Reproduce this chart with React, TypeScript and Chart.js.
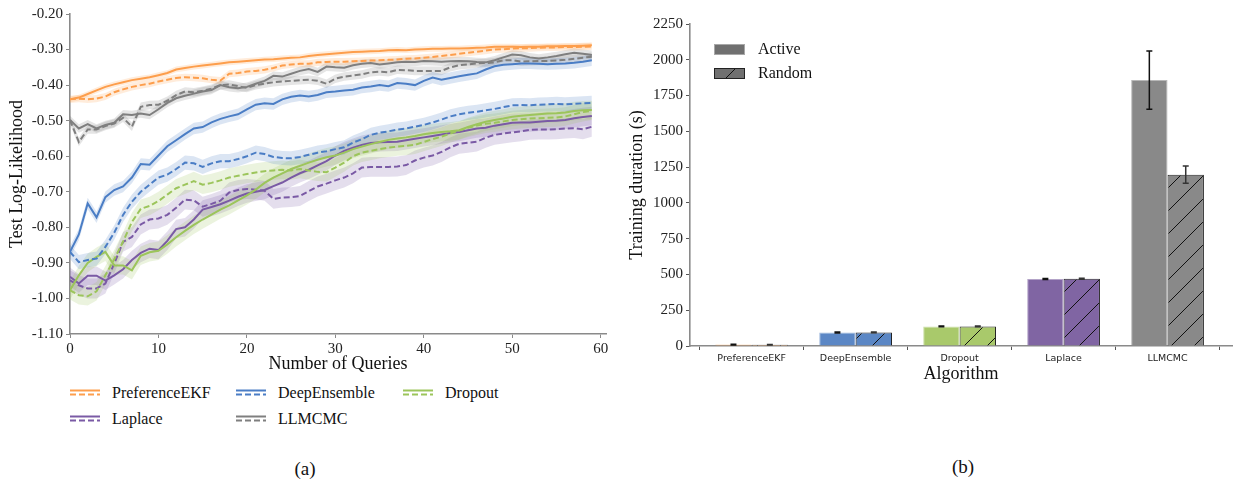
import React, { useEffect, useRef } from 'react';
import { Chart, registerables } from 'chart.js';
Chart.register(...registerables);

// ---------- Panel (a): test log-likelihood vs number of queries ----------
const methods = ['PreferenceEKF', 'DeepEnsemble', 'Dropout', 'Laplace', 'LLMCMC'];

const prefEkfActive = [-0.440, -0.435, -0.425, -0.415, -0.405, -0.398, -0.392, -0.386, -0.382, -0.378, -0.372, -0.366, -0.356, -0.352, -0.348, -0.345, -0.342, -0.339, -0.336, -0.334, -0.332, -0.330, -0.328, -0.327, -0.325, -0.323, -0.322, -0.318, -0.315, -0.313, -0.311, -0.309, -0.307, -0.306, -0.305, -0.304, -0.302, -0.301, -0.302, -0.300, -0.299, -0.298, -0.298, -0.297, -0.297, -0.296, -0.295, -0.294, -0.292, -0.292, -0.292, -0.293, -0.292, -0.292, -0.291, -0.291, -0.290, -0.290, -0.289, -0.288];
const prefEkfRandom = [-0.440, -0.438, -0.440, -0.438, -0.432, -0.420, -0.412, -0.405, -0.400, -0.396, -0.390, -0.385, -0.380, -0.378, -0.379, -0.381, -0.385, -0.387, -0.368, -0.366, -0.362, -0.360, -0.357, -0.352, -0.345, -0.342, -0.340, -0.340, -0.336, -0.335, -0.334, -0.334, -0.333, -0.332, -0.331, -0.330, -0.329, -0.328, -0.326, -0.325, -0.323, -0.321, -0.318, -0.315, -0.312, -0.309, -0.306, -0.303, -0.300, -0.299, -0.297, -0.296, -0.296, -0.295, -0.294, -0.294, -0.293, -0.293, -0.292, -0.291];
const deepEnsActive = [-0.869, -0.820, -0.733, -0.772, -0.715, -0.695, -0.685, -0.660, -0.622, -0.624, -0.598, -0.572, -0.555, -0.538, -0.522, -0.518, -0.505, -0.495, -0.488, -0.482, -0.468, -0.455, -0.451, -0.453, -0.440, -0.433, -0.429, -0.432, -0.428, -0.420, -0.418, -0.415, -0.413, -0.407, -0.404, -0.400, -0.403, -0.394, -0.396, -0.400, -0.388, -0.379, -0.385, -0.380, -0.375, -0.371, -0.367, -0.356, -0.347, -0.343, -0.341, -0.339, -0.339, -0.340, -0.341, -0.340, -0.339, -0.337, -0.334, -0.330];
const deepEnsRandom = [-0.869, -0.898, -0.892, -0.888, -0.855, -0.815, -0.765, -0.728, -0.700, -0.680, -0.660, -0.652, -0.636, -0.618, -0.620, -0.630, -0.620, -0.614, -0.614, -0.608, -0.600, -0.590, -0.594, -0.602, -0.605, -0.606, -0.602, -0.596, -0.590, -0.586, -0.580, -0.575, -0.562, -0.552, -0.540, -0.534, -0.530, -0.525, -0.522, -0.517, -0.512, -0.505, -0.497, -0.488, -0.482, -0.478, -0.475, -0.471, -0.467, -0.462, -0.457, -0.456, -0.457, -0.455, -0.454, -0.453, -0.454, -0.453, -0.451, -0.450];
const dropoutActive = [-0.977, -0.935, -0.900, -0.883, -0.869, -0.907, -0.907, -0.921, -0.880, -0.870, -0.866, -0.848, -0.828, -0.810, -0.793, -0.778, -0.764, -0.750, -0.738, -0.724, -0.710, -0.694, -0.675, -0.660, -0.648, -0.636, -0.627, -0.618, -0.610, -0.603, -0.598, -0.590, -0.580, -0.573, -0.566, -0.560, -0.554, -0.550, -0.547, -0.543, -0.538, -0.535, -0.532, -0.530, -0.527, -0.518, -0.510, -0.503, -0.498, -0.494, -0.489, -0.486, -0.484, -0.482, -0.480, -0.479, -0.477, -0.473, -0.471, -0.470];
const dropoutRandom = [-0.977, -0.991, -0.994, -0.980, -0.935, -0.890, -0.840, -0.785, -0.748, -0.740, -0.726, -0.708, -0.690, -0.680, -0.670, -0.680, -0.675, -0.668, -0.660, -0.655, -0.650, -0.646, -0.642, -0.640, -0.638, -0.640, -0.636, -0.640, -0.644, -0.645, -0.632, -0.618, -0.600, -0.590, -0.585, -0.580, -0.576, -0.573, -0.571, -0.568, -0.560, -0.552, -0.545, -0.536, -0.528, -0.520, -0.514, -0.509, -0.506, -0.502, -0.498, -0.496, -0.494, -0.493, -0.492, -0.491, -0.488, -0.482, -0.476, -0.472];
const laplaceActive = [-0.939, -0.958, -0.936, -0.936, -0.950, -0.935, -0.918, -0.892, -0.872, -0.860, -0.864, -0.838, -0.805, -0.800, -0.778, -0.750, -0.743, -0.735, -0.725, -0.714, -0.705, -0.700, -0.695, -0.684, -0.674, -0.660, -0.648, -0.638, -0.626, -0.614, -0.598, -0.585, -0.576, -0.568, -0.563, -0.561, -0.560, -0.559, -0.555, -0.551, -0.547, -0.543, -0.539, -0.535, -0.532, -0.527, -0.522, -0.520, -0.514, -0.510, -0.506, -0.505, -0.505, -0.503, -0.501, -0.500, -0.498, -0.493, -0.490, -0.487];
const laplaceRandom = [-0.949, -0.963, -0.972, -0.972, -0.958, -0.902, -0.841, -0.827, -0.792, -0.778, -0.775, -0.765, -0.745, -0.722, -0.724, -0.742, -0.734, -0.725, -0.702, -0.695, -0.692, -0.694, -0.697, -0.720, -0.716, -0.715, -0.712, -0.698, -0.685, -0.677, -0.668, -0.660, -0.648, -0.632, -0.630, -0.630, -0.630, -0.629, -0.625, -0.612, -0.604, -0.598, -0.588, -0.575, -0.565, -0.562, -0.559, -0.548, -0.540, -0.536, -0.533, -0.530, -0.526, -0.525, -0.525, -0.524, -0.522, -0.521, -0.524, -0.517];
const llmcmcActive = [-0.498, -0.522, -0.510, -0.522, -0.512, -0.506, -0.482, -0.484, -0.480, -0.484, -0.468, -0.450, -0.437, -0.430, -0.424, -0.418, -0.414, -0.400, -0.406, -0.409, -0.405, -0.396, -0.388, -0.374, -0.376, -0.368, -0.360, -0.355, -0.363, -0.348, -0.350, -0.351, -0.344, -0.340, -0.338, -0.342, -0.339, -0.336, -0.334, -0.335, -0.332, -0.333, -0.334, -0.333, -0.332, -0.333, -0.335, -0.336, -0.330, -0.322, -0.314, -0.316, -0.322, -0.325, -0.322, -0.318, -0.313, -0.309, -0.312, -0.315];
const llmcmcRandom = [-0.498, -0.560, -0.525, -0.525, -0.515, -0.508, -0.492, -0.517, -0.461, -0.456, -0.455, -0.444, -0.428, -0.418, -0.420, -0.416, -0.410, -0.400, -0.398, -0.403, -0.408, -0.400, -0.396, -0.392, -0.390, -0.388, -0.386, -0.385, -0.388, -0.396, -0.382, -0.376, -0.373, -0.370, -0.364, -0.362, -0.364, -0.357, -0.358, -0.360, -0.360, -0.360, -0.360, -0.350, -0.344, -0.342, -0.339, -0.338, -0.336, -0.330, -0.330, -0.334, -0.333, -0.332, -0.332, -0.331, -0.329, -0.326, -0.323, -0.320];

// half-width of the shaded uncertainty band for each series [active, random]
const bandPrefEkf = [0.008, 0.010];
const bandDeepEns = [0.016, 0.020];
const bandDropout = [0.026, 0.026];
const bandLaplace = [0.026, 0.028];
const bandLlmcmc = [0.012, 0.012];

const xTicksA = [0, 10, 20, 30, 40, 50, 60];
const yTicksA = [-1.1, -1.0, -0.9, -0.8, -0.7, -0.6, -0.5, -0.4, -0.3, -0.2];

// ---------- Panel (b): training duration ----------
const algorithms = ['PreferenceEKF', 'DeepEnsemble', 'Dropout', 'Laplace', 'LLMCMC'];
const activeDuration = [10, 94, 137, 468, 1858];
const activeErr = [3, 3, 3, 4, 203];
const randomDuration = [9, 95, 137, 470, 1197];
const randomErr = [2, 3, 3, 4, 60];
const yTicksB = [0, 250, 500, 750, 1000, 1250, 1500, 1750, 2000, 2250];

const lineColors = ['#fd9e4c', '#4a7dc5', '#9cc55b', '#7a5aa5', '#7f7f7f'];
const barColors = ['#f6a55b', '#5b87c5', '#a9c96b', '#8065a3', '#898989'];

const SERIF = "'Liberation Serif', 'DejaVu Serif', serif";

function rgba(hex: string, a: number) {
  const n = parseInt(hex.slice(1), 16);
  return `rgba(${(n >> 16) & 255},${(n >> 8) & 255},${n & 255},${a})`;
}

function makeHatch(color: string): CanvasPattern {
  const s = 23;
  const c = document.createElement('canvas');
  c.width = s; c.height = s;
  const g = c.getContext('2d')!;
  g.fillStyle = color;
  g.fillRect(0, 0, s, s);
  g.strokeStyle = '#111';
  g.lineWidth = 1;
  g.beginPath();
  g.moveTo(0, s); g.lineTo(s, 0);
  g.moveTo(-s, s); g.lineTo(0, 0);
  g.moveTo(s, s); g.lineTo(2 * s, 0);
  g.stroke();
  return g.createPattern(c, 'repeat')!;
}

function buildLineDatasets() {
  const series = [
    [prefEkfActive, prefEkfRandom, bandPrefEkf],
    [deepEnsActive, deepEnsRandom, bandDeepEns],
    [dropoutActive, dropoutRandom, bandDropout],
    [laplaceActive, laplaceRandom, bandLaplace],
    [llmcmcActive, llmcmcRandom, bandLlmcmc],
  ] as number[][][];
  const bands: any[] = [];
  const lines: any[] = [];
  series.forEach(([act, rnd, band], m) => {
    [act, rnd].forEach((vals, k) => {
      const w = band[k];
      bands.push({
        label: `${methods[m]}-${k}-upper`,
        data: vals.map((v, i) => ({ x: i, y: v + w })),
        borderWidth: 0, pointRadius: 0, fill: '+1',
        backgroundColor: rgba(lineColors[m], 0.2), order: 10,
      });
      bands.push({
        label: `${methods[m]}-${k}-lower`,
        data: vals.map((v, i) => ({ x: i, y: v - w })),
        borderWidth: 0, pointRadius: 0, fill: false, order: 10,
      });
      lines.push({
        label: `${methods[m]}-${k}`,
        data: vals.map((v, i) => ({ x: i, y: v })),
        borderColor: lineColors[m], borderWidth: 2, pointRadius: 0,
        borderDash: k === 1 ? [6, 3] : [], fill: false, order: 0,
      });
    });
  });
  return [...bands, ...lines];
}

const errorBarPlugin = {
  id: 'errorBars',
  afterDatasetsDraw(chart: any) {
    const ctx = chart.ctx;
    const ys = chart.scales.y;
    const errs = [activeErr, randomErr];
    const vals = [activeDuration, randomDuration];
    ctx.save();
    ctx.lineWidth = 1.5;
    [0, 1].forEach((d) => {
      ctx.strokeStyle = d === 0 ? '#111' : '#333';
      const meta = chart.getDatasetMeta(d);
      meta.data.forEach((el: any, i: number) => {
        const x = el.x;
        const top = ys.getPixelForValue(vals[d][i] + errs[d][i]);
        const bot = ys.getPixelForValue(vals[d][i] - errs[d][i]);
        ctx.beginPath();
        ctx.moveTo(x, top); ctx.lineTo(x, bot);
        ctx.moveTo(x - 3, top); ctx.lineTo(x + 3, top);
        ctx.moveTo(x - 3, bot); ctx.lineTo(x + 3, bot);
        ctx.stroke();
      });
    });
    ctx.restore();
  },
};

const barLegendPlugin = {
  id: 'barLegend',
  afterDraw(chart: any) {
    const ctx = chart.ctx;
    const a = chart.chartArea;
    const x0 = a.left + 24;
    const rows = [a.top + 20, a.top + 44];
    ctx.save();
    ctx.fillStyle = '#707070';
    ctx.fillRect(x0, rows[0], 31, 11);
    ctx.strokeStyle = '#a8a8a8';
    ctx.lineWidth = 1;
    ctx.strokeRect(x0 + 0.5, rows[0] + 0.5, 30, 10);
    ctx.fillStyle = makeHatch('#707070');
    ctx.fillRect(x0, rows[1], 31, 11);
    ctx.strokeStyle = '#222';
    ctx.strokeRect(x0 + 0.5, rows[1] + 0.5, 30, 10);
    ctx.fillStyle = '#111';
    ctx.font = `16px ${SERIF}`;
    ctx.textBaseline = 'middle';
    ctx.fillText('Active', x0 + 44, rows[0] + 6);
    ctx.fillText('Random', x0 + 44, rows[1] + 6);
    ctx.restore();
  },
};

const legendItems = [
  { name: 'PreferenceEKF', color: lineColors[0], col: 0, row: 0 },
  { name: 'DeepEnsemble', color: lineColors[1], col: 1, row: 0 },
  { name: 'Dropout', color: lineColors[2], col: 2, row: 0 },
  { name: 'Laplace', color: lineColors[3], col: 0, row: 1 },
  { name: 'LLMCMC', color: lineColors[4], col: 1, row: 1 },
];
const legendColX = [70, 236, 403];
const legendRowY = [393, 419];

export default function App() {
  const leftRef = useRef<HTMLCanvasElement>(null);
  const rightRef = useRef<HTMLCanvasElement>(null);

  useEffect(() => {
    const axisBorder = { display: true, color: '#8a8a8a', width: 1.6 };
    const left = new Chart(leftRef.current!, {
      type: 'line',
      data: { datasets: buildLineDatasets() },
      options: {
        animation: false,
        responsive: false,
        layout: { padding: { top: 14, right: 14, bottom: 0, left: 0 } },
        plugins: { legend: { display: false }, tooltip: { enabled: false } },
        scales: {
          x: {
            type: 'linear', min: 0, max: 60.6,
            afterBuildTicks: (s: any) => { s.ticks = xTicksA.map((v) => ({ value: v })); },
            afterFit: (s: any) => { s.height = 44; },
            grid: { drawOnChartArea: false, drawTicks: true, tickLength: 4, color: '#8a8a8a' },
            border: axisBorder,
            ticks: { color: '#222', font: { family: SERIF, size: 15 }, padding: 2, maxRotation: 0 },
            title: { display: true, text: 'Number of Queries', color: '#111', font: { family: SERIF, size: 18 }, padding: { top: 0, bottom: 3 } },
          },
          y: {
            type: 'linear', min: -1.1, max: -0.2,
            afterBuildTicks: (s: any) => { s.ticks = yTicksA.map((v) => ({ value: v })); },
            afterFit: (s: any) => { s.width = 70; },
            grid: { drawOnChartArea: false, drawTicks: true, tickLength: 4, color: '#8a8a8a' },
            border: axisBorder,
            ticks: { color: '#222', font: { family: SERIF, size: 15 }, padding: 3, callback: (v: any) => Number(v).toFixed(2) },
            title: { display: true, text: 'Test Log-Likelihood', color: '#111', font: { family: SERIF, size: 18 }, padding: { top: 6, bottom: 0 } },
          },
        },
      } as any,
    });

    const right = new Chart(rightRef.current!, {
      type: 'bar',
      data: {
        datasets: [
          {
            label: 'Active',
            data: activeDuration.map((v, i) => ({ x: i, y: v })),
            backgroundColor: barColors,
            borderColor: barColors.map((c) => rgba(c, 0.6)),
            borderWidth: 1,
          },
          {
            label: 'Random',
            data: randomDuration.map((v, i) => ({ x: i, y: v })),
            backgroundColor: barColors.map((c) => makeHatch(c)),
            borderColor: '#222',
            borderWidth: 1,
          },
        ],
      },
      plugins: [errorBarPlugin, barLegendPlugin],
      options: {
        animation: false,
        responsive: false,
        layout: { padding: { top: 24, right: 1, bottom: 0, left: 0 } },
        datasets: { bar: { categoryPercentage: 0.7, barPercentage: 1.0 } },
        plugins: { legend: { display: false }, tooltip: { enabled: false } },
        scales: {
          x: {
            type: 'linear', min: -0.593, max: 4.62, offset: false,
            afterBuildTicks: (s: any) => { s.ticks = algorithms.map((_, i) => ({ value: i })); },
            afterFit: (s: any) => { s.height = 42; },
            grid: { drawOnChartArea: false, drawTicks: true, tickLength: 4, color: '#555' },
            border: { display: true, color: '#8a8a8a', width: 1.6 },
            ticks: {
              color: '#222', font: { family: "'DejaVu Sans', sans-serif", size: 9.5 }, padding: 3,
              maxRotation: 0, autoSkip: false,
              callback: (v: any) => algorithms[Math.round(Number(v))] ?? '',
            },
            title: { display: true, text: 'Algorithm', color: '#111', font: { family: SERIF, size: 18 }, padding: { top: 0, bottom: 3 } },
          },
          y: {
            type: 'linear', min: 0, max: 2250,
            afterBuildTicks: (s: any) => { s.ticks = yTicksB.map((v) => ({ value: v })); },
            afterFit: (s: any) => { s.width = 70; },
            grid: { drawOnChartArea: false, drawTicks: true, tickLength: 4, color: '#555' },
            border: { display: true, color: '#8a8a8a', width: 1.6 },
            ticks: { color: '#222', font: { family: SERIF, size: 15 }, padding: 3, callback: (v: any) => String(v) },
            title: { display: true, text: 'Training duration (s)', color: '#111', font: { family: SERIF, size: 18 }, padding: { top: 6, bottom: 0 } },
          },
        },
      } as any,
    });

    return () => { left.destroy(); right.destroy(); };
  }, []);

  return (
    <div style={{ position: 'absolute', left: 0, top: 0, width: 1233, height: 486, background: '#fff', fontFamily: SERIF }}>
      <canvas ref={leftRef} width={620} height={378} style={{ position: 'absolute', left: 0, top: 0, width: 620, height: 378 }} />
      <canvas ref={rightRef} width={613} height={388} style={{ position: 'absolute', left: 620, top: 0, width: 613, height: 388 }} />
      {legendItems.map((it) => (
        <div key={it.name} style={{ position: 'absolute', left: legendColX[it.col], top: legendRowY[it.row] - 10, height: 20, display: 'flex', alignItems: 'center', whiteSpace: 'nowrap' }}>
          <svg width={30} height={12} style={{ display: 'block' }}>
            <line x1={0} x2={30} y1={3.5} y2={3.5} stroke={it.color} strokeWidth={2} />
            <line x1={0} x2={30} y1={7.5} y2={7.5} stroke={it.color} strokeWidth={2} strokeDasharray="6 3" />
          </svg>
          <span style={{ marginLeft: 12, fontSize: 16, color: '#111', lineHeight: '20px' }}>{it.name}</span>
        </div>
      ))}
      <div style={{ position: 'absolute', left: 285, top: 458, width: 40, textAlign: 'center', fontSize: 19, color: '#111' }}>(a)</div>
      <div style={{ position: 'absolute', left: 943, top: 456, width: 40, textAlign: 'center', fontSize: 19, color: '#111' }}>(b)</div>
    </div>
  );
}
